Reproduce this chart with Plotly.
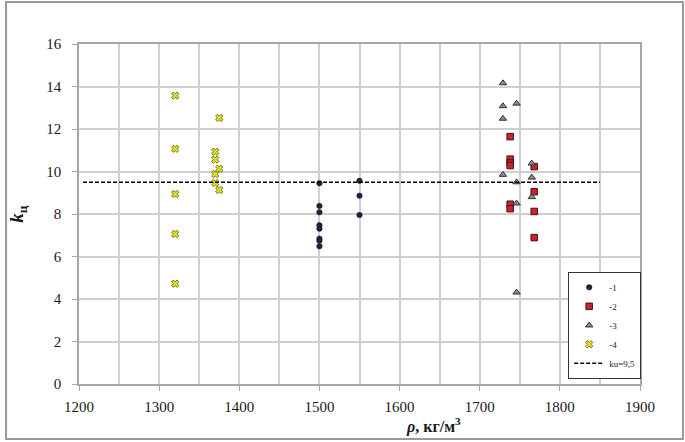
import plotly.graph_objects as go

# Series 1 (circles)
s1_x = [1500, 1500, 1500, 1500, 1500, 1500, 1500, 1500, 1550, 1550, 1550]
s1_y = [9.45, 8.38, 8.08, 7.47, 7.31, 6.84, 6.74, 6.48, 9.56, 8.86, 7.95]
# Series 2 (squares)
s2_x = [1738, 1738, 1738, 1738, 1738, 1738, 1768, 1768, 1768, 1768]
s2_y = [11.64, 10.58, 10.4, 10.28, 8.46, 8.25, 10.23, 9.05, 8.12, 6.89]
# Series 3 (triangles)
s3_x = [1729, 1729, 1729, 1729, 1746, 1746, 1746, 1746, 1765, 1765, 1765]
s3_y = [14.16, 13.08, 12.49, 9.85, 13.2, 9.5, 8.5, 4.31, 10.38, 9.72, 8.8]
# Series 4 (crosses)
s4_x = [1320, 1320, 1320, 1320, 1320, 1370, 1370, 1370, 1370, 1375, 1375, 1375]
s4_y = [13.57, 11.07, 8.94, 7.06, 4.72, 10.93, 10.56, 9.88, 9.46, 12.52, 10.13, 9.13]
# Reference line
ref_x = [1205, 1850]
ref_y = [9.5, 9.5]

x_ticks = [1200, 1300, 1400, 1500, 1600, 1700, 1800, 1900]
y_ticks = [0, 2, 4, 6, 8, 10, 12, 14, 16]

SERIF = "Liberation Serif, Times New Roman, serif"

fig = go.Figure()
fig.add_trace(go.Scatter(x=s1_x, y=s1_y, mode="markers", name="-1",
                         marker=dict(symbol="circle", size=5.5, color="#1c2540",
                                     line=dict(width=0.5, color="#10172a"))))
fig.add_trace(go.Scatter(x=s2_x, y=s2_y, mode="markers", name="-2",
                         marker=dict(symbol="square", size=6.5, color="#c4262e",
                                     line=dict(width=1, color="#4a1010"))))
fig.add_trace(go.Scatter(x=s3_x, y=s3_y, mode="markers", name="-3",
                         marker=dict(symbol="triangle-up", size=6.5, color="#8c8c8c",
                                     line=dict(width=1, color="#303030"))))
fig.add_trace(go.Scatter(x=s4_x, y=s4_y, mode="markers", name="-4",
                         marker=dict(symbol="x", size=6.5, color="#e0e020",
                                     line=dict(width=0.8, color="#5a5a10"))))
fig.add_trace(go.Scatter(x=ref_x, y=ref_y, mode="lines", name="ku=9,5",
                         line=dict(color="black", width=1.5, dash="4px,2px")))

fig.update_layout(
    width=685, height=442,
    margin=dict(l=79, r=45, t=44, b=58),
    paper_bgcolor="white", plot_bgcolor="white",
    font=dict(family=SERIF, size=15, color="#1a1a1a"),
    showlegend=True,
    legend=dict(x=0.872, y=0.33, xanchor="left", yanchor="top",
                bgcolor="white", bordercolor="#333333", borderwidth=1,
                font=dict(family=SERIF, size=9, color="#1a1a1a"),
                itemwidth=30, tracegroupgap=0),
    xaxis=dict(range=[1200, 1900], tickvals=x_ticks, ticks="outside", ticklen=5,
               tickcolor="#a6a6a6", showgrid=True, gridcolor="#cfcfcf", gridwidth=1.5,
               minor=dict(dtick=50, tick0=1200, showgrid=True, gridcolor="#cfcfcf", gridwidth=1.5),
               showline=True, linecolor="#a6a6a6", linewidth=1.5, mirror=True,
               zeroline=False, ticklabelstandoff=3),
    yaxis=dict(range=[0, 16], tickvals=y_ticks, ticks="outside", ticklen=5,
               tickcolor="#a6a6a6", showgrid=True, gridcolor="#cfcfcf", gridwidth=1.5,
               showline=True, linecolor="#a6a6a6", linewidth=1.5, mirror=True,
               zeroline=False, ticklabelstandoff=8),
    shapes=[dict(type="rect", xref="paper", yref="paper",
                 x0=-0.130, x1=1.0766, y0=-0.1618, y1=1.1235,
                 line=dict(color="#9a9a9a", width=2), layer="below")],
    annotations=[
        dict(text="<b><i>ρ</i>, кг/м<sup>3</sup></b>", xref="paper", yref="paper",
             x=0.632, y=-0.122, xanchor="center", yanchor="middle", showarrow=False,
             font=dict(family=SERIF, size=16, color="#1a1a1a")),
        dict(text="<b><i>k</i><sub>ц</sub></b>", xref="paper", yref="paper",
             x=-0.109, y=0.5, xanchor="center", yanchor="middle", showarrow=False,
             textangle=-90, font=dict(family=SERIF, size=19, color="#1a1a1a")),
    ],
)

fig.write_html("out.html", config={"displayModeBar": False},
               post_script="document.body.style.margin='0';")
